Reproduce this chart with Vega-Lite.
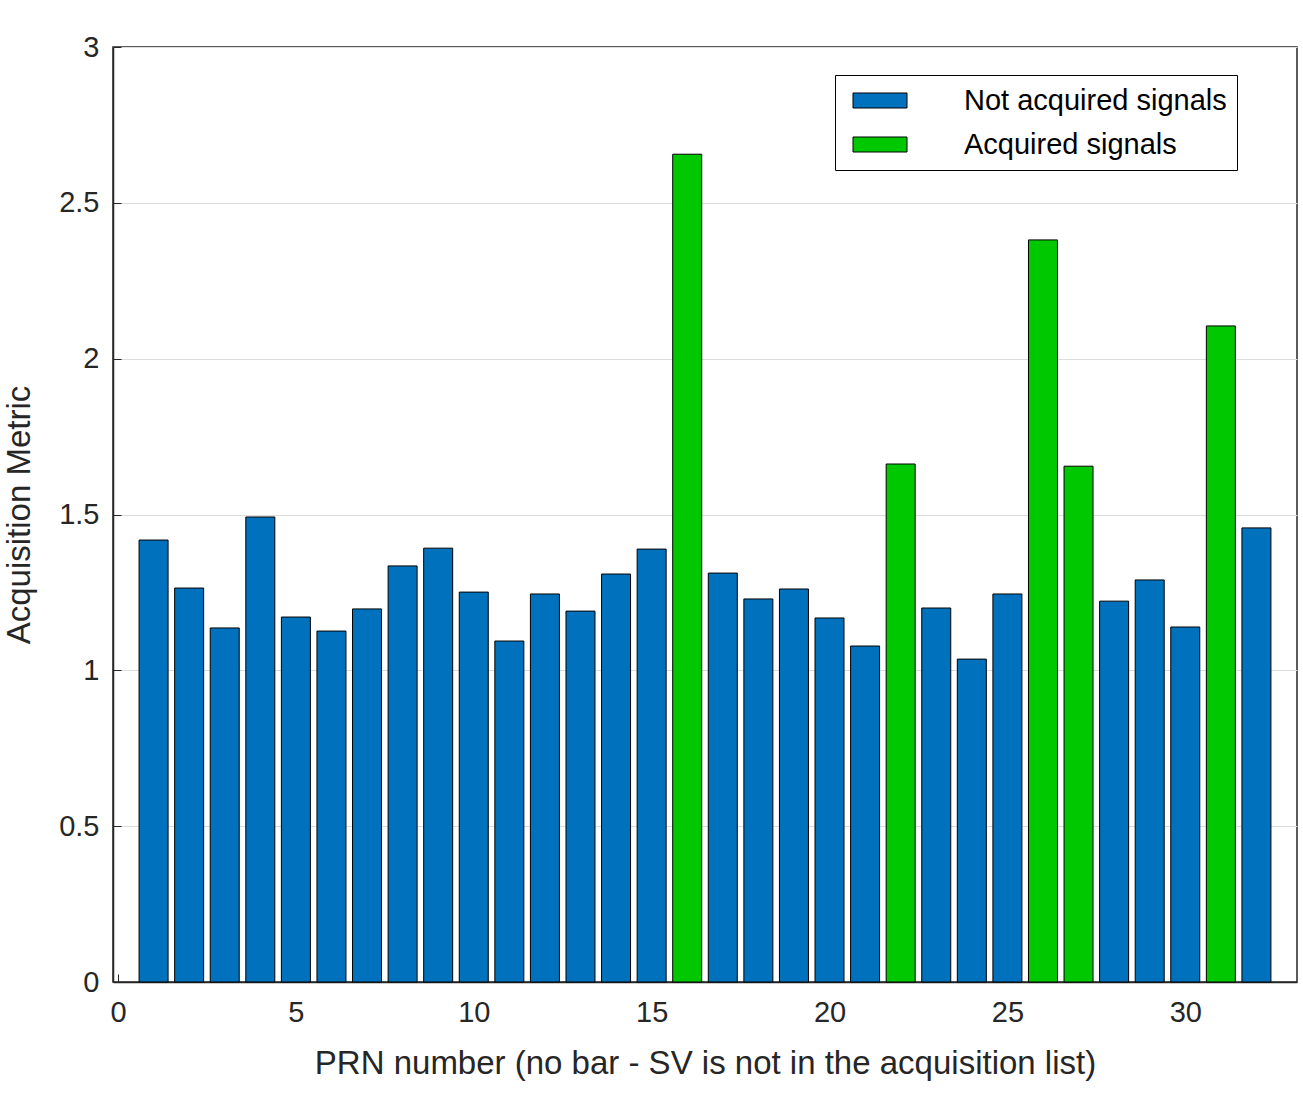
{
  "$schema": "https://vega.github.io/schema/vega-lite/v6.json",
  "width": 1184,
  "height": 935,
  "autosize": {"type": "none"},
  "padding": {"left": 113, "top": 47, "right": 6, "bottom": 111},
  "background": "white",
  "title": {"text": "Acquisition results", "fontSize": 31, "fontWeight": "bold", "font": "Liberation Sans", "color": "#000000", "offset": 4, "baseline": "bottom"},
  "data": {
    "values": [
      {"prn": 1, "metric": 1.418, "status": "Not acquired signals"},
      {"prn": 2, "metric": 1.264, "status": "Not acquired signals"},
      {"prn": 3, "metric": 1.136, "status": "Not acquired signals"},
      {"prn": 4, "metric": 1.492, "status": "Not acquired signals"},
      {"prn": 5, "metric": 1.171, "status": "Not acquired signals"},
      {"prn": 6, "metric": 1.126, "status": "Not acquired signals"},
      {"prn": 7, "metric": 1.197, "status": "Not acquired signals"},
      {"prn": 8, "metric": 1.335, "status": "Not acquired signals"},
      {"prn": 9, "metric": 1.392, "status": "Not acquired signals"},
      {"prn": 10, "metric": 1.251, "status": "Not acquired signals"},
      {"prn": 11, "metric": 1.094, "status": "Not acquired signals"},
      {"prn": 12, "metric": 1.245, "status": "Not acquired signals"},
      {"prn": 13, "metric": 1.19, "status": "Not acquired signals"},
      {"prn": 14, "metric": 1.309, "status": "Not acquired signals"},
      {"prn": 15, "metric": 1.389, "status": "Not acquired signals"},
      {"prn": 16, "metric": 2.656, "status": "Acquired signals"},
      {"prn": 17, "metric": 1.312, "status": "Not acquired signals"},
      {"prn": 18, "metric": 1.229, "status": "Not acquired signals"},
      {"prn": 19, "metric": 1.261, "status": "Not acquired signals"},
      {"prn": 20, "metric": 1.168, "status": "Not acquired signals"},
      {"prn": 21, "metric": 1.078, "status": "Not acquired signals"},
      {"prn": 22, "metric": 1.662, "status": "Acquired signals"},
      {"prn": 23, "metric": 1.2, "status": "Not acquired signals"},
      {"prn": 24, "metric": 1.036, "status": "Not acquired signals"},
      {"prn": 25, "metric": 1.245, "status": "Not acquired signals"},
      {"prn": 26, "metric": 2.381, "status": "Acquired signals"},
      {"prn": 27, "metric": 1.655, "status": "Acquired signals"},
      {"prn": 28, "metric": 1.222, "status": "Not acquired signals"},
      {"prn": 29, "metric": 1.29, "status": "Not acquired signals"},
      {"prn": 30, "metric": 1.139, "status": "Not acquired signals"},
      {"prn": 31, "metric": 2.105, "status": "Acquired signals"},
      {"prn": 32, "metric": 1.457, "status": "Not acquired signals"}
    ]
  },
  "mark": {"type": "bar", "size": 29, "stroke": "#000000", "strokeWidth": 1},
  "encoding": {
    "x": {
      "field": "prn", "type": "quantitative",
      "scale": {"domain": [0, 33], "nice": false, "zero": false},
      "axis": {"values": [0, 5, 10, 15, 20, 25, 30], "title": "PRN number (no bar - SV is not in the acquisition list)", "grid": false, "tickSize": -8, "labelPadding": 24, "titlePadding": 20}
    },
    "y": {
      "field": "metric", "type": "quantitative",
      "scale": {"domain": [0, 3], "nice": false},
      "axis": {"values": [0, 0.5, 1, 1.5, 2, 2.5, 3], "format": "~g", "title": "Acquisition Metric", "grid": true, "tickSize": -8, "labelPadding": 22, "titlePadding": 22}
    },
    "color": {
      "field": "status", "type": "nominal",
      "scale": {"domain": ["Not acquired signals", "Acquired signals"], "range": ["#0072BD", "#00C800"]},
      "legend": {
        "title": null, "orient": "none", "legendX": 722, "legendY": 28,
        "symbolType": "M-0.5,-0.5H3.1V0.5H-0.5Z", "symbolSize": 900,
        "symbolStrokeColor": "#000000", "symbolStrokeWidth": 1, "symbolOpacity": 1,
        "labelFontSize": 29, "labelFont": "Liberation Sans", "labelColor": "#000000", "labelLimit": 500,
        "rowPadding": 13, "padding": 10, "strokeColor": "#000000", "fillColor": "#ffffff", "labelOffset": 88
      }
    }
  },
  "config": {
    "view": {"stroke": "#262626", "strokeWidth": 1.5},
    "axis": {
      "labelFont": "Liberation Sans", "titleFont": "Liberation Sans",
      "labelFontSize": 29, "titleFontSize": 33, "titleFontWeight": "normal",
      "labelColor": "#262626", "titleColor": "#262626",
      "domainColor": "#262626", "tickColor": "#262626", "domainWidth": 1.5,
      "gridColor": "#dcdcdc", "gridOpacity": 1
    }
  }
}
